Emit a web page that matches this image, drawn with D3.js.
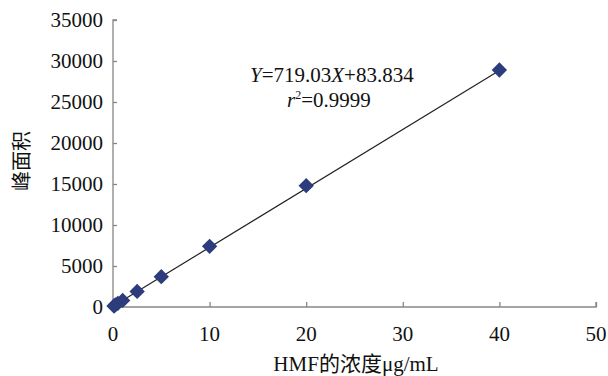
<!DOCTYPE html>
<html><head><meta charset="utf-8">
<script src="https://cdn.jsdelivr.net/npm/d3@7"></script>
<style>body{margin:0;background:#fff} text{font-family:"Liberation Serif","DejaVu Serif",serif}</style>
</head><body>
<svg id="c" width="608" height="376"></svg>
<script>
const concentrations = [0.1, 0.25, 0.5, 1, 2.5, 5, 10, 20, 40];
const peakAreas = [120, 250, 450, 800, 1900, 3700, 7400, 14800, 28900];
const xTicks = [0, 10, 20, 30, 40, 50];
const yTicks = [0, 5000, 10000, 15000, 20000, 25000, 30000, 35000];
const slope = 719.03, intercept = 83.834;
const fitRange = [0, 40];

const svg = d3.select("#c");
const x = d3.scaleLinear().domain([0, 50]).range([113, 596]);
const y = d3.scaleLinear().domain([0, 35000]).range([307, 20]);
const axisColor = "#868686";

// y axis
const ya = svg.append("g").attr("transform", `translate(${x(0)},0)`)
  .call(d3.axisRight(y).tickValues(yTicks).tickSize(4).tickFormat(""));
ya.selectAll("path,line").attr("stroke", axisColor).attr("stroke-width", 1.3);
ya.select(".domain").attr("d", `M4,${y(35000)}H0V${y(0)}`);
svg.append("g").selectAll("text").data(yTicks).join("text")
  .attr("x", 103).attr("y", d => y(d) + 7).attr("text-anchor", "end")
  .attr("font-size", 21).attr("fill", "#111").text(d => d);

// x axis
const xa = svg.append("g").attr("transform", `translate(0,${y(0)})`)
  .call(d3.axisTop(x).tickValues(xTicks).tickSize(5).tickFormat(""));
xa.selectAll("path,line").attr("stroke", axisColor).attr("stroke-width", 1.3);
xa.select(".domain").attr("d", `M${x(0)},0H${x(50)}V-5`);
svg.append("g").selectAll("text").data(xTicks).join("text")
  .attr("x", d => x(d)).attr("y", 341).attr("text-anchor", "middle")
  .attr("font-size", 21).attr("fill", "#111").text(d => d);

// trend line
svg.append("line")
  .attr("x1", x(fitRange[0])).attr("y1", y(slope * fitRange[0] + intercept))
  .attr("x2", x(fitRange[1])).attr("y2", y(slope * fitRange[1] + intercept))
  .attr("stroke", "#222").attr("stroke-width", 1.2);

// markers
svg.append("g").selectAll("path").data(concentrations).join("path")
  .attr("d", d3.symbol(d3.symbolDiamond2, 150))
  .attr("transform", (d, i) => `translate(${x(d)},${y(peakAreas[i])})`)
  .attr("fill", "#2c3c7c");

// equation
const eq = svg.append("text").attr("x", 250).attr("y", 82)
  .attr("font-size", 21).attr("fill", "#111");
eq.append("tspan").attr("font-style", "italic").text("Y");
eq.append("tspan").text("=719.03");
eq.append("tspan").attr("font-style", "italic").text("X");
eq.append("tspan").text("+83.834");
const r2 = svg.append("text").attr("x", 287).attr("y", 107)
  .attr("font-size", 21).attr("fill", "#111");
r2.append("tspan").attr("font-style", "italic").text("r");
r2.append("tspan").attr("font-size", 12).attr("dy", -8).text("2");
r2.append("tspan").attr("dy", 8).text("=0.9999");

// axis titles
svg.append("text").attr("transform", "translate(29,161) rotate(-90)")
  .attr("text-anchor", "middle").style("font-family", "'Noto Sans CJK SC',sans-serif")
  .attr("font-size", 20).attr("fill", "#111").text("峰面积");
svg.append("text").attr("x", 356).attr("y", 371).attr("text-anchor", "middle")
  .style("font-family", "'Liberation Serif','Noto Sans CJK SC',serif")
  .attr("font-size", 21).attr("fill", "#111").text("HMF的浓度μg/mL");
</script>
</body></html>
